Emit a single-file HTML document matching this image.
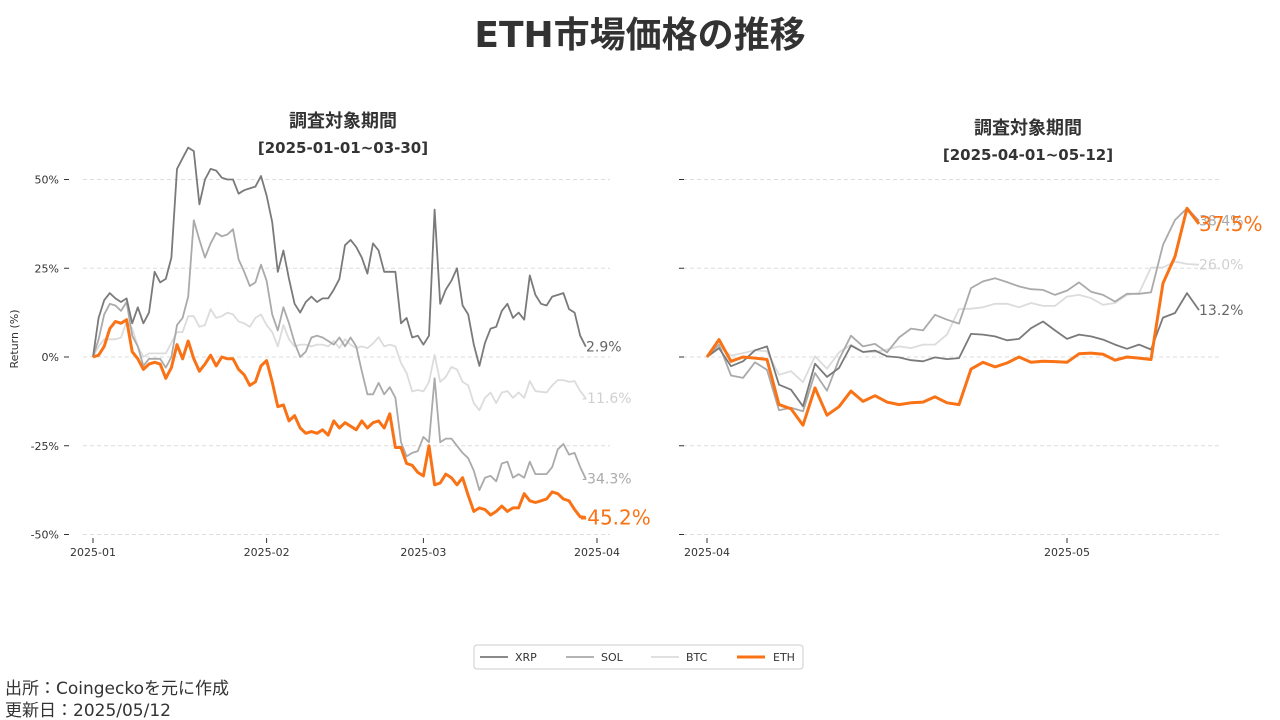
<!DOCTYPE html>
<html><head><meta charset="utf-8">
<style>
body{margin:0;width:1280px;height:720px;background:#fff;font-family:"DejaVu Sans","Noto Sans CJK JP",sans-serif;overflow:hidden;position:relative}
svg{position:absolute;left:0;top:0}
text{font-family:"DejaVu Sans","Noto Sans CJK JP",sans-serif}
</style></head>
<body>
<svg id="chart" width="1280" height="720"></svg>
<script>
const leftXRP=[0,11,16,18,16.5,15.5,16.5,9.5,14,9.5,12.5,24,21,22,28,53,56,59,58,43,50,53,52.5,50.5,50,50,46,47,47.5,48,51,45.5,38,24,30,22,15,12.5,15.5,17,15.5,16.5,16.5,19,22,31.5,33,31,28,23.5,32,30,24,24,24,9.5,11,5.5,6,3.5,6,41.5,15,19,21.5,25,14.5,12,3.5,-2.5,4,8,8.5,13,15,11,12.5,10.5,23,17.5,15,14.5,17,17.5,18,13.5,12.5,6,2.9];
const leftSOL=[0,5,12,15,14.5,13,15.5,6,3,-2.5,-0.5,-0.5,-0.5,-3,0,9,11,17,38.5,33,28,32,35,34,34.5,36,27.5,24,20,21,26,21.5,12,7.5,14,9.5,4,0,1.5,5.5,6,5.5,4.5,3.5,5.5,3,5.5,3,-4,-10.5,-10.5,-7.3,-10.5,-8.5,-11.5,-24,-28,-27,-26.5,-22.5,-24,-6,-24,-23,-23,-25,-27,-28.5,-32,-37.5,-34,-33.5,-35,-30,-29.5,-34,-33,-34,-29.5,-33,-33,-33,-31,-26,-24.5,-27.5,-27,-31,-34.3];
const leftBTC=[0,3,5,5,5,5.5,10,8,3,0,1,1,1,1,4,7,7,11.5,11.5,8.5,9,13.5,11,11.5,12.5,12,10,9.5,8.5,11,12,9,7,3,9,5,3,3.5,3.5,3,3.5,3.5,3,4.5,2.5,5,3.5,2.5,3,2.5,3.8,5.6,3,3.5,3,-1.7,-4.5,-9.7,-9.3,-9.7,-7,0.6,-7,-5.6,-2.8,-3.5,-7,-8,-13,-15,-11.5,-10,-13,-10,-9.6,-11.5,-10,-11.5,-6.8,-9.6,-9.8,-10,-8,-6.5,-6.5,-7,-6.8,-9.6,-11.6];
const leftETH=[0,0.5,3,8,10,9.5,10.5,1.5,-0.5,-3.5,-2,-1.5,-2,-6,-3,3.5,-0.5,4.5,-0.5,-4,-2,0.5,-2.5,0,-0.5,-0.5,-3.5,-5,-8,-7,-2.5,-1,-7,-14,-13.5,-18,-16.5,-20,-21.5,-21,-21.5,-20.5,-22,-18,-20,-18.5,-19.5,-20.5,-18,-20,-18.5,-18,-20,-16,-25.5,-25.5,-30,-30.5,-32.5,-33.5,-25,-36,-35.5,-33,-34,-36,-34,-39,-43.5,-42.5,-43,-44.5,-43.5,-42,-43.5,-42.5,-42.5,-38.5,-40.5,-41,-40.5,-40,-38,-38.5,-40,-40.5,-43,-45,-45.2];
const rightXRP=[0,2.5,-2.6,-1.2,1.9,3,-7.8,-9.2,-13.9,-1.9,-5.6,-3.1,3.2,1.4,1.8,0.2,-0.1,-0.9,-1.2,-0.1,-0.6,-0.3,6.5,6.3,5.8,4.7,5.1,8.1,10,7.5,5.1,6.3,5.8,4.9,3.5,2.3,3.5,2.1,11.1,12.4,18,13.2];
const rightSOL=[0,3.5,-5.2,-5.9,-1.5,-3.6,-15,-14.3,-15.3,-4.5,-9.5,-0.7,6,3,3.7,1.3,5.5,8,7.5,11.9,10.5,9.4,19.4,21.3,22.2,21.1,19.9,19.1,18.9,17.5,18.7,21,18.4,17.5,15.6,17.8,17.8,18.2,31.6,38.6,41.9,38.4];
const rightBTC=[0,3,0.4,1.1,1.9,1.6,-5,-4,-7.1,0.2,-3.3,1.3,3.5,1.4,1.4,2.1,3,2.5,3.5,3.5,6.3,13.5,13.6,14,15,15,14,15.2,14.4,14.4,17,17.5,16.6,14.7,15.2,17.5,18,25.2,25.2,26.9,26.2,26.0];
const rightETH=[0,4.9,-1.2,0,-0.3,-0.7,-13.4,-14.6,-19.2,-8.7,-16.4,-14,-9.6,-12.5,-10.9,-12.7,-13.4,-12.9,-12.7,-11.2,-12.9,-13.4,-3.4,-1.5,-2.8,-1.7,0,-1.5,-1.2,-1.3,-1.5,0.9,1.1,0.8,-0.9,0,-0.3,-0.7,20.8,28.3,41.9,37.5];
const yTicks=[50,25,0,-25,-50];
const yTickLabels=["50%","25%","0%","-25%","-50%"];
const leftXTicks=[0,31,59,90];
const leftXTickLabels=["2025-01","2025-02","2025-03","2025-04"];
const rightXTicks=[0,30];
const rightXTickLabels=["2025-04","2025-05"];

const svg=document.getElementById('chart');
const NS="http://www.w3.org/2000/svg";
function mk(tag,attrs,text){const e=document.createElementNS(NS,tag);for(const k in attrs)e.setAttribute(k,attrs[k]);if(text!==undefined)e.textContent=text;svg.appendChild(e);return e;}
const yScale=v=>357-v*3.55;
const colors={XRP:"#7a7a7a",SOL:"#aaaaaa",BTC:"#dcdcdc",ETH:"#f97316"};

function panel(p){
  const xs=d=>p.x0+d*p.step;
  yTicks.forEach((t,i)=>{
    const gl=mk('line',{x1:p.gx0,x2:p.gx1,y1:yScale(t),y2:yScale(t),stroke:"#dddddd","stroke-dasharray":"4,3","stroke-width":1});
    
    
    const tk=mk('line',{x1:p.tickX,x2:p.tickX+5,y1:yScale(t),y2:yScale(t),stroke:"#333","stroke-width":1});
    
    
    if(p.labels){
      const tl=mk('text',{x:p.tickX-5,y:yScale(t)+4,"text-anchor":"end","font-size":11,fill:"#333"},yTickLabels[i]);
      
      
    }
  });
  p.xt.forEach((d,i)=>{
    const tk=mk('line',{x1:xs(d),x2:xs(d),y1:538,y2:543,stroke:"#333","stroke-width":1});
    
    
    const tl=mk('text',{x:xs(d),y:556,"text-anchor":"middle","font-size":11,fill:"#333"},p.xl[i]);
    
    
  });
  ["BTC","SOL","XRP","ETH"].forEach(k=>{
    const arr=p.series[k];
    const pts=arr.map((v,i)=>xs(i).toFixed(1)+","+yScale(v).toFixed(1)).join(" ");
    const pl=mk('polyline',{points:pts,fill:"none",stroke:colors[k],"stroke-width":k==="ETH"?3:1.8,"stroke-linejoin":"round"});
    
    
  });
}
panel({name:"left-panel",x0:93,step:5.6,gx0:83,gx1:610,tickX:64,labels:true,xt:leftXTicks,xl:leftXTickLabels,
  series:{XRP:leftXRP,SOL:leftSOL,BTC:leftBTC,ETH:leftETH}});
panel({name:"right-panel",x0:707,step:12,gx0:683,gx1:1222,tickX:679,labels:false,xt:rightXTicks,xl:rightXTickLabels,
  series:{XRP:rightXRP,SOL:rightSOL,BTC:rightBTC,ETH:rightETH}});

function endLabel(x,v,txt,color,size,name){
  const t=mk('text',{x:x,y:yScale(v)+size*0.35,"font-size":size,fill:color},txt);
  
  
}
endLabel(586,leftXRP[88],"2.9%","#666",14,"end-label-xrp-left");
endLabel(582,leftBTC[88],"-11.6%","#d0d0d0",14,"end-label-btc-left");
endLabel(582,leftSOL[88],"-34.3%","#aaa",14,"end-label-sol-left");
endLabel(580,leftETH[88],"-45.2%","#f97316",20,"end-label-eth-left");
endLabel(1199,rightSOL[41],"38.4%","#aaa",14,"end-label-sol-right");
endLabel(1199,rightBTC[41],"26.0%","#d0d0d0",14,"end-label-btc-right");
endLabel(1199,rightXRP[41],"13.2%","#666",14,"end-label-xrp-right");
endLabel(1199,rightETH[41],"37.5%","#f97316",20,"end-label-eth-right");
</script>
<svg width="1280" height="720" style="pointer-events:none">
<text x="640" y="47" text-anchor="middle" font-size="36" font-weight="bold" fill="#333">ETH市場価格の推移</text>
<text x="343" y="127" text-anchor="middle" font-size="18" font-weight="bold" fill="#333">調査対象期間</text>
<text x="343" y="153" text-anchor="middle" font-size="15" font-weight="bold" fill="#333">[2025-01-01~03-30]</text>
<text x="1028" y="134" text-anchor="middle" font-size="18" font-weight="bold" fill="#333">調査対象期間</text>
<text x="1028" y="160" text-anchor="middle" font-size="15" font-weight="bold" fill="#333">[2025-04-01~05-12]</text>
<text x="18" y="339" transform="rotate(-90 18 339)" text-anchor="middle" font-size="11" fill="#333">Return (%)</text>
<g font-size="11" fill="#333">
<rect x="474" y="645" width="329" height="24" rx="3" fill="#fff" stroke="#ccc"/>
<g><line x1="480" x2="508" y1="657" y2="657" stroke="#7a7a7a" stroke-width="1.8"/><text x="515" y="661">XRP</text></g>
<g><line x1="566" x2="594" y1="657" y2="657" stroke="#aaa" stroke-width="1.8"/><text x="601" y="661">SOL</text></g>
<g><line x1="651" x2="679" y1="657" y2="657" stroke="#dcdcdc" stroke-width="1.8"/><text x="686" y="661">BTC</text></g>
<g><line x1="737" x2="765" y1="657" y2="657" stroke="#f97316" stroke-width="3"/><text x="773" y="661">ETH</text></g>
</g>
<text x="5" y="694" font-size="17" fill="#333">出所：Coingeckoを元に作成</text>
<text x="5" y="716" font-size="17" fill="#333">更新日：2025/05/12</text>
</svg>
</body></html>
